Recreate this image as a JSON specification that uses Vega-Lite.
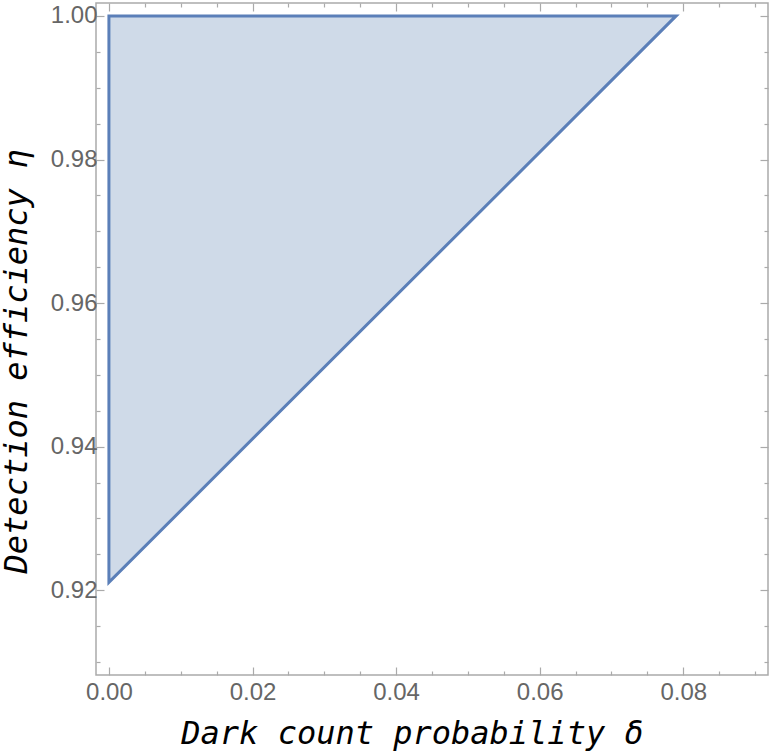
{
  "$schema": "https://vega.github.io/schema/vega-lite/v6.json",
  "width": 672,
  "height": 672,
  "autosize": {"type": "none"},
  "padding": {"left": 96, "top": 3, "right": 4, "bottom": 79},
  "background": "white",
  "config": {
    "view": {"stroke": "#aaaaaa", "strokeWidth": 1.5},
    "axis": {
      "domain": false,
      "grid": false,
      "tickColor": "#aaaaaa",
      "tickWidth": 1.2,
      "labelOverlap": false,
      "labelFlush": false,
      "labelBound": false,
      "titleFont": "DejaVu Sans Mono",
      "titleFontStyle": "italic",
      "titleFontWeight": "normal",
      "titleFontSize": 32,
      "titleColor": "black"
    }
  },
  "data": {
    "values": [
      {"delta": 0.0, "eta_top": 1.0, "eta_bottom": 0.9211},
      {"delta": 0.079, "eta_top": 1.0, "eta_bottom": 1.0}
    ]
  },
  "layer": [
    {
      "mark": {"type": "area", "fill": "#cfdae8", "fillOpacity": 1, "stroke": "#5b7fb8", "strokeWidth": 3, "strokeJoin": "miter", "clip": true},
      "encoding": {
        "x": {
          "field": "delta", "type": "quantitative",
          "scale": {"domain": [-0.0018, 0.0918], "nice": false, "zero": false},
          "axis": {
            "orient": "bottom",
            "title": "Dark count probability δ",
            "titleX": 316, "titleY": 68, "titleBaseline": "alphabetic", "titleAlign": "center",
            "values": [0, 0.005, 0.01, 0.015, 0.02, 0.025, 0.03, 0.035, 0.04, 0.045, 0.05, 0.055, 0.06, 0.065, 0.07, 0.075, 0.08, 0.085, 0.09],
            "tickSize": {"condition": {"test": "abs(datum.value*50 - round(datum.value*50)) < 0.001", "value": -8}, "value": -4},
            "labelExpr": "abs(datum.value*50 - round(datum.value*50)) < 0.001 ? format(datum.value, '.2f') : ''",
            "labelFont": "Liberation Sans",
            "labelFontSize": 24,
            "labelColor": "#666666",
            "labelPadding": 13
          }
        },
        "y": {
          "field": "eta_top", "type": "quantitative",
          "scale": {"domain": [0.9082, 1.0018], "nice": false, "zero": false},
          "axis": {
            "orient": "left",
            "title": "Detection efficiency η",
            "titleX": -70, "titleY": 358, "titleAngle": -90, "titleBaseline": "alphabetic", "titleAlign": "center",
            "values": [0.91, 0.915, 0.92, 0.925, 0.93, 0.935, 0.94, 0.945, 0.95, 0.955, 0.96, 0.965, 0.97, 0.975, 0.98, 0.985, 0.99, 0.995, 1.0],
            "tickSize": {"condition": {"test": "abs(datum.value*50 - round(datum.value*50)) < 0.001", "value": -8}, "value": -4},
            "labelExpr": "abs(datum.value*50 - round(datum.value*50)) < 0.001 ? format(datum.value, '.2f') : ''",
            "labelFont": "Liberation Sans",
            "labelFontSize": 24,
            "labelColor": "#666666",
            "labelPadding": 7
          }
        },
        "y2": {"field": "eta_bottom"}
      }
    },
    {
      "mark": {"type": "point", "opacity": 0},
      "encoding": {
        "x": {
          "field": "delta", "type": "quantitative",
          "axis": {
            "orient": "top", "title": null, "labels": false,
            "values": [0, 0.005, 0.01, 0.015, 0.02, 0.025, 0.03, 0.035, 0.04, 0.045, 0.05, 0.055, 0.06, 0.065, 0.07, 0.075, 0.08, 0.085, 0.09],
            "tickSize": {"condition": {"test": "abs(datum.value*50 - round(datum.value*50)) < 0.001", "value": -8}, "value": -4}
          }
        },
        "y": {
          "field": "eta_top", "type": "quantitative",
          "axis": {
            "orient": "right", "title": null, "labels": false,
            "values": [0.91, 0.915, 0.92, 0.925, 0.93, 0.935, 0.94, 0.945, 0.95, 0.955, 0.96, 0.965, 0.97, 0.975, 0.98, 0.985, 0.99, 0.995, 1.0],
            "tickSize": {"condition": {"test": "abs(datum.value*50 - round(datum.value*50)) < 0.001", "value": -8}, "value": -4}
          }
        }
      }
    }
  ],
  "resolve": {"axis": {"x": "independent", "y": "independent"}}
}
